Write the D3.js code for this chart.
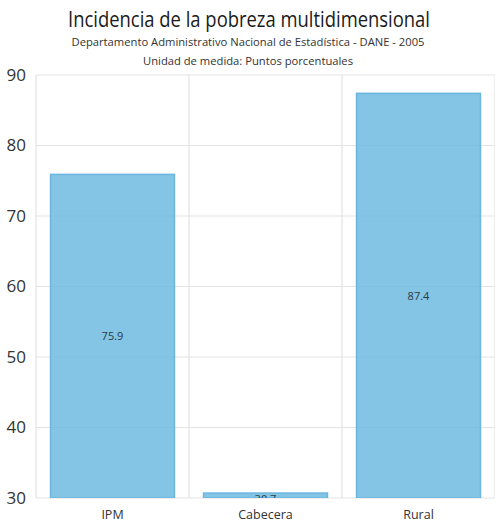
<!DOCTYPE html>
<html><head><meta charset="utf-8">
<script src="https://cdn.jsdelivr.net/npm/d3@7"></script>
<style>body{margin:0;background:#fff}svg{display:block;font-family:"Open Sans","Noto Sans",sans-serif}</style>
</head><body>
<script>
const categories = ["IPM", "Cabecera", "Rural"];
const values = [75.9, 30.7, 87.4];
const yTicks = [30, 40, 50, 60, 70, 80, 90];
const title = "Incidencia de la pobreza multidimensional";
const subtitle1 = "Departamento Administrativo Nacional de Estadística - DANE - 2005";
const subtitle2 = "Unidad de medida: Puntos porcentuales";

const W = 495, H = 526;
const m = {left: 36, right: 0, top: 75, bottom: 28};
const svg = d3.select("body").append("svg").attr("width", W).attr("height", H);

const x = d3.scaleBand().domain(categories).range([m.left, W - m.right]).paddingInner(0.19).paddingOuter(0.095);
const y = d3.scaleLinear().domain([30, 90]).range([H - m.bottom, m.top]);

svg.append("text").attr("x", 249).attr("y", 27).attr("text-anchor", "middle")
  .attr("font-size", 21).attr("fill", "#1a1a1a")
  .attr("textLength", 362).attr("lengthAdjust", "spacingAndGlyphs").text(title);
svg.append("text").attr("x", 248).attr("y", 46).attr("text-anchor", "middle")
  .attr("font-size", 11.5).attr("fill", "#333")
  .attr("textLength", 353).attr("lengthAdjust", "spacingAndGlyphs").text(subtitle1);
svg.append("text").attr("x", 248).attr("y", 65).attr("text-anchor", "middle")
  .attr("font-size", 11.5).attr("fill", "#333")
  .attr("textLength", 210).attr("lengthAdjust", "spacingAndGlyphs").text(subtitle2);

// horizontal gridlines
svg.append("g").selectAll("line").data(yTicks).join("line")
  .attr("x1", m.left).attr("x2", W - m.right)
  .attr("y1", d => y(d)).attr("y2", d => y(d))
  .attr("stroke", "#e3e3e3").attr("stroke-width", 1.2);
// vertical gridlines at band boundaries
const step = x.step();
const bounds = [m.left].concat(categories.map(c => x(c) + x.bandwidth() + x.paddingInner() * step / 2));
svg.append("g").selectAll("line").data(bounds).join("line")
  .attr("x1", d => d).attr("x2", d => d)
  .attr("y1", y(90)).attr("y2", y(30))
  .attr("stroke", "#e3e3e3").attr("stroke-width", 1.2);

// y axis labels
const yAxis = d3.axisLeft(y).tickValues(yTicks).tickSize(0).tickPadding(10);
const ya = svg.append("g").attr("transform", `translate(${m.left},0)`).call(yAxis);
ya.select(".domain").remove();
ya.selectAll("text").attr("font-size", 17).attr("fill", "#333").attr("font-family", "Open Sans, Noto Sans, sans-serif");

// x axis labels
const xAxis = d3.axisBottom(x).tickSize(0).tickPadding(12);
const xa = svg.append("g").attr("transform", `translate(0,${H - m.bottom})`).call(xAxis);
xa.select(".domain").remove();
xa.selectAll("text").attr("font-size", 12.5).attr("fill", "#333").attr("font-family", "Open Sans, Noto Sans, sans-serif");

svg.append("clipPath").attr("id", "plot").append("rect")
  .attr("x", m.left).attr("y", y(90)).attr("width", W - m.left).attr("height", y(30) - y(90));

const data = categories.map((c, i) => ({c, v: values[i]}));
const g = svg.append("g").attr("clip-path", "url(#plot)");
g.selectAll("rect").data(data).join("rect")
  .attr("x", d => x(d.c)).attr("width", x.bandwidth())
  .attr("y", d => y(d.v)).attr("height", d => y(30) - y(d.v))
  .attr("fill", "#6fbadf").attr("fill-opacity", 0.85)
  .attr("stroke", "#6ab6de").attr("stroke-width", 1.5);
g.selectAll("text").data(data).join("text")
  .attr("x", d => x(d.c) + x.bandwidth() / 2)
  .attr("y", d => (y(30) - y(d.v)) < 14 ? y(30) + 1.5 : (y(d.v) + y(30)) / 2)
  .attr("dy", "0.35em").attr("text-anchor", "middle")
  .attr("font-size", 11).attr("fill", "#2a3a48")
  .text(d => d.v.toFixed(1));
</script>
</body></html>
